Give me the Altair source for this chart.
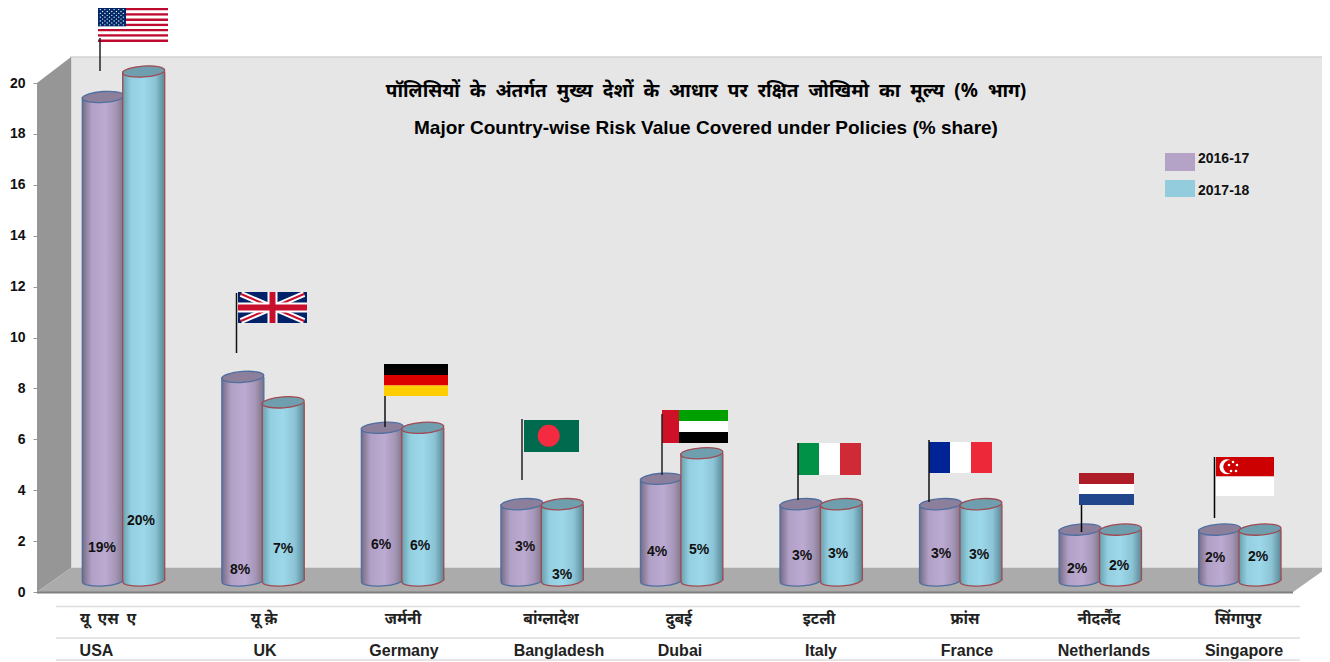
import altair as alt
import pandas as pd

# ---------- chart values ----------
hindi = ["यू एस ए", "यू के़", "जर्मनी", "बांग्लादेश", "दुबई", "इटली", "फ्रांस", "नीदर्लैंद", "सिंगापुर"]
english = ["USA", "UK", "Germany", "Bangladesh", "Dubai", "Italy", "France", "Netherlands", "Singapore"]
v2016 = [19, 8, 6, 3, 4, 3, 3, 2, 2]
v2017 = [20, 7, 6, 3, 5, 3, 3, 2, 2]
ticks = list(range(0, 21, 2))
title_hi = "पॉलिसियों के अंतर्गत मुख्य देशों के आधार पर रक्षित जोखिमो का मूल्य (% भाग)"
title_en = "Major Country-wise Risk Value Covered under Policies (% share)"
series = ["2016-17", "2017-18"]

# ---------- layout (page pixels converted into the scales' units) ----------
X0, XSTEP = 123.5, 139.54
Y0, YUNIT = 592.0, 25.45
FONT = "Liberation Sans"
WIDE = "\u00a0\u00a0"
def ux(x): return (x - X0) / XSTEP
def vy(y): return (Y0 - y) / YUNIT
XD = alt.Scale(domain=[ux(37), ux(1293)], nice=False, zero=False)
YD = alt.Scale(domain=[0, 20], nice=False, zero=False)
DEPTH = 11.5 / YUNIT
HALF = 21 / XSTEP
SHIFT = 20.2 / XSTEP
ELLIPSE = "M-1,0A1,0.26,0,1,1,1,0A1,0.26,0,1,1,-1,0Z"
ESIZE = 42 ** 2
YAXIS = alt.Axis(values=ticks, grid=False, domain=False, tickColor="#9a9a9a", tickSize=4,
                 labelFont=FONT, labelFontWeight="bold", labelFontSize=14, labelColor="#111111",
                 labelPadding=8, title=None)

X = lambda f="x": alt.X(f"{f}:Q", scale=XD, axis=None)
Y = lambda f="y": alt.Y(f"{f}:Q", scale=YD, axis=YAXIS, title=None)
layers = []

def rect_layer(rows, **kw):
    df = pd.DataFrame([dict(x=ux(a), x2=ux(b), y=vy(c), y2=vy(d), c=e) for a, b, c, d, e in rows])
    return alt.Chart(df).mark_rect(**kw).encode(
        x=X(), x2="x2:Q", y=Y(), y2="y2:Q", color=alt.Color("c:N", scale=None))

def rule_layer(rows):
    df = pd.DataFrame([dict(x=ux(a), x2=ux(b), y=vy(c), y2=vy(d), c=e, w=f) for a, b, c, d, e, f in rows])
    return alt.Chart(df).mark_rule().encode(
        x=X(), x2="x2:Q", y=Y(), y2="y2:Q", color=alt.Color("c:N", scale=None),
        strokeWidth=alt.StrokeWidth("w:Q", scale=None))

def dot_layer(rows):
    df = pd.DataFrame([dict(x=ux(a), y=vy(b), s=d * d, c=e) for a, b, d, e in rows])
    return alt.Chart(df).mark_circle(opacity=1).encode(
        x=X(), y=Y(), size=alt.Size("s:Q", scale=None), color=alt.Color("c:N", scale=None))

def text_layer(rows, **kw):
    df = pd.DataFrame([dict(x=ux(a), y=vy(b), t=c) for a, b, c in rows])
    return alt.Chart(df).mark_text(baseline="middle", **kw).encode(x=X(), y=Y(), text="t:N")

# ---------- 3D box ----------
layers.append(rect_layer([(71, 1327, 57, 568, "#E6E6E6")], stroke="#d2d2d2", strokeWidth=1.5))
side = pd.DataFrame({"x": [ux(37), ux(71)], "y": [vy(83), vy(57)], "y2": [vy(592), vy(568)]})
layers.append(alt.Chart(side).mark_area(color="#969696").encode(x=X(), y=Y(), y2="y2:Q"))
floor = pd.DataFrame({"x": [ux(37), ux(71), ux(1293), ux(1327)],
                      "y": [vy(592), vy(568), vy(568), vy(568)],
                      "y2": [vy(592), vy(592), vy(592), vy(568)]})
layers.append(alt.Chart(floor).mark_area(color="#ABABAB").encode(x=X(), y=Y(), y2="y2:Q"))
layers.append(rule_layer([(37, 1293, 592.5, 592.5, "#7f7f7f", 2)]))

# ---------- cylinders ----------
def grad(stops):
    return alt.Gradient(gradient="linear", x1=0, x2=1, y1=0, y2=0,
                        stops=[alt.GradientStop(color=c, offset=o) for o, c in stops])

STY = [
    dict(g=grad([(0, "#766c86"), (0.22, "#b1a0c6"), (0.55, "#bcaad2"), (0.8, "#a596b6"), (1, "#7b7286")]),
         top="#8c7f9c", line="#4f6fa0", off=-SHIFT, vals=v2016),
    dict(g=grad([(0, "#69a0b0"), (0.2, "#93cfe0"), (0.5, "#9cd8ea"), (0.78, "#8bc3d4"), (1, "#5a8897")]),
         top="#6f9fae", line="#a04a52", off=SHIFT, vals=v2017),
]
for s in STY:
    df = pd.DataFrame({"u": [i + s["off"] for i in range(len(s["vals"]))], "v": s["vals"]})
    df["l"] = df.u - HALF
    df["r"] = df.u + HALF
    df["top"] = df.v + DEPTH
    df["base"] = DEPTH
    base = alt.Chart(df)
    layers.append(base.mark_point(shape=ELLIPSE, angle=356, filled=True, opacity=1, size=ESIZE,
                                  fill=s["g"], stroke=s["line"], strokeWidth=1.3).encode(x=X("u"), y=Y("base")))
    layers.append(base.mark_bar(fill=s["g"], strokeWidth=0).encode(x=X("l"), x2="r:Q", y=Y("top"), y2="base:Q"))
    layers.append(base.mark_rule(color=s["line"], strokeWidth=1.3).encode(x=X("l"), y=Y("top"), y2="base:Q"))
    layers.append(base.mark_rule(color=s["line"], strokeWidth=1.3).encode(x=X("r"), y=Y("top"), y2="base:Q"))
    layers.append(base.mark_point(shape=ELLIPSE, angle=356, filled=True, opacity=1, size=ESIZE,
                                  fill=s["top"], stroke=s["line"], strokeWidth=1.3).encode(x=X("u"), y=Y("top")))

# ---------- flags ----------
R, W, B = "#BF0A30", "#FFFFFF", "#002868"
rects = []
# USA
for i in range(13):
    y = 8 + i * 34 / 13
    rects.append((98, 168, y, y + 34 / 13, R if i % 2 == 0 else W))
rects.append((98, 126, 8, 26.3, B))
# UK base
rects.append((238, 307, 292, 323, "#012169"))
layers.append(rect_layer(rects))
diag = []
for (a, c, b, d) in [(241, 294, 304, 321), (241, 321, 304, 294)]:
    diag.append((a, b, c, d, W, 6))
    diag.append((a, b, c, d, "#C8102E", 2))
layers.append(rule_layer(diag))
rects = [
    (238, 307, 302.5, 312.5, W), (267.5, 277.5, 292, 323, W),
    (238, 307, 304.5, 310.5, "#C8102E"), (269.5, 275.5, 292, 323, "#C8102E"),
    # Germany
    (384, 448, 364, 375, "#000000"), (384, 448, 375, 385.5, "#DD0000"), (384, 448, 385.5, 396, "#FFCE00"),
    # Bangladesh
    (524, 579, 420, 452, "#006A4E"),
    # UAE
    (662, 728, 410, 421, "#00A000"), (662, 728, 421, 432, W), (662, 728, 432, 443, "#000000"),
    (662, 679, 410, 443, "#CE1126"),
    # Italy
    (798, 819, 443, 475, "#009246"), (819, 840, 443, 475, W), (840, 861, 443, 475, "#CE2B37"),
    # France
    (929, 950, 442, 473, "#002395"), (950, 971, 442, 473, W), (971, 992, 442, 473, "#ED2939"),
    # Netherlands
    (1079, 1134, 473, 484, "#AE1C28"), (1079, 1134, 484, 494, W), (1079, 1134, 494, 505, "#21468B"),
    # Singapore
    (1216, 1274, 457, 476.5, "#CC0000"), (1216, 1274, 476.5, 496, W),
]
layers.append(rect_layer(rects))
dots = [(548.7, 435.7, 22, "#F42A41"), (1227, 466.7, 15, W), (1230, 466.7, 13.5, "#CC0000")]
dots += [(x, y, 2.6, W) for x, y in [(1233, 462), (1237, 465), (1236, 471), (1231, 471), (1229, 465)]]
for r in range(9):
    n = 6 if r % 2 == 0 else 5
    for c in range(n):
        dots.append((100.3 + c * 4.6 + (0 if r % 2 == 0 else 2.3), 9.6 + r * 1.9, 1.3, W))
layers.append(dot_layer(dots))
layers.append(rule_layer([
    (100, 100, 38, 71, "#222222", 1.5), (236.5, 236.5, 293, 353, "#111111", 1.5),
    (385, 385, 396, 427, "#111111", 1.5), (522, 522, 419, 480, "#222222", 1.5),
    (662, 662, 414, 475, "#222222", 1.5), (798, 798, 443, 500, "#111111", 1.5),
    (929, 929, 440, 502, "#111111", 1.5), (1081.5, 1081.5, 505, 532, "#000000", 1.5),
    (1214.5, 1214.5, 457, 518, "#000000", 1.5),
]))

# ---------- value labels ----------
lab_pos = [(102, 548), (141, 521), (240, 570), (283, 549), (381, 545), (420, 546), (525, 547), (562, 575),
           (657, 552), (699, 550), (802, 556), (838, 554), (941, 554), (979, 555), (1077, 569), (1119, 566),
           (1215, 558), (1258, 557)]
lab_vals = [f"{v}%" for pair in zip(v2016, v2017) for v in pair]
layers.append(text_layer([(x, y, t) for (x, y), t in zip(lab_pos, lab_vals)],
                         font=FONT, fontWeight="bold", fontSize=14, color="#111111"))

# ---------- titles ----------
layers.append(text_layer([(706, 91, title_hi.replace(" ", WIDE))], font="Noto Sans", fontWeight="bold",
                         fontSize=19, color="#000000"))
layers.append(text_layer([(706, 128, title_en)], font=FONT, fontWeight="bold", fontSize=19, color="#000000"))

# ---------- legend ----------
layers.append(rect_layer([(1165, 1195, 153, 171, "#B4A2C7"), (1165, 1195, 180, 197, "#93CDDD")]))
layers.append(text_layer([(1198, 158.5, series[0]), (1198, 190.5, series[1])], align="left",
                         font=FONT, fontWeight="bold", fontSize=14, color="#111111"))

# ---------- bottom table ----------
layers.append(rule_layer([(56, 1300, y, y, "#dcdcdc", 1.5) for y in (606.5, 638, 660)]))
hi_x = [108, 264, 403, 551, 679, 819, 965, 1099, 1238]
en_x = [96.5, 265, 404, 559, 680, 821, 967, 1104, 1244]
layers.append(text_layer([(x, 619, t.replace(" ", WIDE) if i == 0 else t)
                          for i, (x, t) in enumerate(zip(hi_x, hindi))], font="Noto Sans", fontWeight="bold",
                         fontSize=15.5, color="#222222"))
layers.append(text_layer([(x, 650.5, t) for x, t in zip(en_x, english)], font=FONT, fontWeight="bold",
                         fontSize=16, color="#222222"))

chart = alt.layer(*layers).properties(
    width=1256, height=509,
    padding={"left": 29, "right": 29, "top": 75, "bottom": 70},
    autosize=alt.AutoSizeParams(type="none"),
    background="#FFFFFF",
).configure_view(stroke=None)

chart.save("out.html", embed_options={"renderer": "svg", "actions": False})
